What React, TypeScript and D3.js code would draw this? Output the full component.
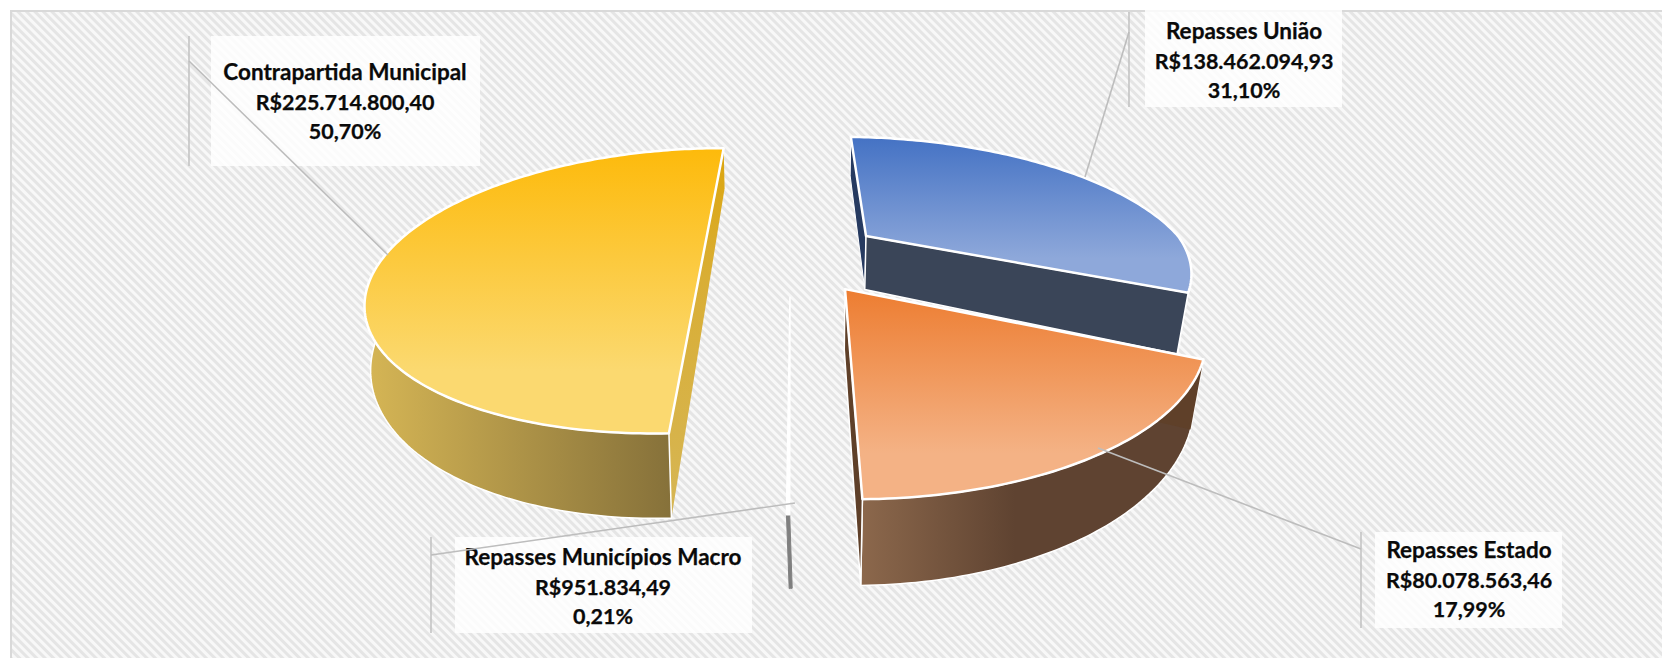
import React from "react";
import * as d3 from "d3";

const categories = ["Repasses União", "Repasses Estado", "Repasses Municípios Macro", "Contrapartida Municipal"];
const amounts = [138462094.93, 80078563.46, 951834.49, 225714800.4];
const amountLabels = ["R$138.462.094,93", "R$80.078.563,46", "R$951.834,49", "R$225.714.800,40"];
const percentLabels = ["31,10%", "17,99%", "0,21%", "50,70%"];

const W = 1662, H = 658;
// perspective camera
const cam = { C: 821, D: 236, A: 312, B: 124, p: 0.25, h0: 55, h1: 8 };
const rotation = (2.3 * Math.PI) / 180;
// exploded offset of each slice on the pie plane, with its small per-slice fit to the 3D renderer
const explode = [
  { x: 45 / 312, v: 0, twist: 0, shear: 0.065, rx: 1, q: 0.028 },
  { x: 0.0695, v: 0.387, twist: 0, shear: 0, rx: 1, q: 0.028 },
  { x: -0.0885, v: 0.44, twist: -1.8, shear: 0, rx: 0.5, q: 0.055 },
  { x: -0.385, v: 0.139, twist: -1.95, shear: 0, rx: 0.96, q: 0.012 },
];
const paintOrder = [3, 2, 0, 1];

const topColors = [["#4472C4", "#8EA8DA"], ["#ED7D31", "#F4B285"], ["#FFFFFF", "#FFFFFF"], ["#FDBA0B", "#FBD970"]];
const wallColors = [["#2F3F5C", "#3A4558"], ["#8C684C", "#5F4331"], ["#7F7F7F", "#7F7F7F"], ["#D6B655", "#86713A"]];
const startSide = ["#263A60", "#5F4029", "#7F7F7F", "url(#yellowSide)"];
const endSide = ["#3A4558", "#5F4029", "#7F7F7F", "url(#yellowSide)"];

const labelBoxes = [
  { x: 1145, y: 10, w: 197, h: 97, cx: 1244, base: 39, lx: 1129, ax: 1129, ay: 32, bx: 1085, by: 177 },
  { x: 1375, y: 532, w: 187, h: 96, cx: 1469, base: 558, lx: 1361, ax: 1361, ay: 549, bx: 1098, by: 448 },
  { x: 455, y: 537, w: 297, h: 96, cx: 603, base: 565, lx: 431, ax: 431, ay: 555, bx: 795, by: 503 },
  { x: 211, y: 36, w: 269, h: 130, cx: 345, base: 80, lx: 189, ax: 189, ay: 61, bx: 388, by: 255 },
];

type P = [number, number];
function project(x: number, v: number, z: number, q: number): P {
  const w = 1 - cam.p * v + q * z;
  return [cam.C + (cam.A * x) / w, cam.D + (cam.B * v + z * (cam.h0 + cam.h1 * v)) / w];
}
const line = d3.line<P>().curve(d3.curveLinearClosed);

const arcs = d3
  .pie<number>()
  .sort(null)
  .startAngle(rotation)
  .endAngle(rotation + 2 * Math.PI)(amounts);

function onRim(i: number, phi: number, z: number): P {
  const e = explode[i];
  const f = phi + (e.twist * Math.PI) / 180;
  const dv = -Math.cos(f);
  return project(e.x + e.rx * Math.sin(f) + e.shear * Math.min(dv, 0), e.v + dv, z, e.q);
}
function rimAngles(a: number, b: number): number[] {
  const n = Math.max(2, Math.ceil(((b - a) * 180) / Math.PI));
  return d3.range(n + 1).map((k) => a + ((b - a) * k) / n);
}

function Slice({ i }: { i: number }) {
  const a = arcs[i];
  const e = explode[i];
  const reflex = a.endAngle - a.startAngle > Math.PI;
  const sliver = a.endAngle - a.startAngle < 0.05;
  const apexTop = project(e.x, e.v, 0, e.q);
  const apexBot = project(e.x, e.v, 1, e.q);
  const rim = rimAngles(a.startAngle, a.endAngle);
  const top = reflex ? rim.map((f) => onRim(i, f, 0)) : [apexTop, ...rim.map((f) => onRim(i, f, 0))];
  const f0 = Math.max(a.startAngle, Math.PI / 2);
  const f1 = Math.min(a.endAngle, (320 * Math.PI) / 180);
  const wallAngles = rimAngles(f0, f1);
  const wall = [...wallAngles.map((f) => onRim(i, f, 0)), ...wallAngles.slice().reverse().map((f) => onRim(i, f, 1))];
  const side = (f: number) => [apexTop, onRim(i, f, 0), onRim(i, f, 1), apexBot] as P[];
  const chord = [onRim(i, a.startAngle, 0), onRim(i, a.endAngle, 0), onRim(i, a.endAngle, 1), onRim(i, a.startAngle, 1)] as P[];
  return (
    <g stroke="#fff" strokeLinejoin="round">
      <defs>
        <linearGradient id={`top${i}`} x1="0" y1="0" x2="0" y2="1">
          <stop offset="0" stopColor={topColors[i][0]} />
          <stop offset="0.78" stopColor={topColors[i][1]} />
          <stop offset="1" stopColor={topColors[i][1]} />
        </linearGradient>
        <linearGradient id={`wall${i}`} x1="0" y1="0" x2="1" y2="0">
          <stop offset="0" stopColor={wallColors[i][0]} />
          <stop offset={i === 1 ? 0.45 : 1} stopColor={wallColors[i][1]} />
          <stop offset="1" stopColor={wallColors[i][1]} />
        </linearGradient>
      </defs>
      {reflex && <path d={line(chord) ?? ""} fill={endSide[i]} strokeWidth={0} />}
      {sliver && <path d={line(wall) ?? ""} fill={wallColors[i][0]} stroke={wallColors[i][0]} strokeWidth={1} />}
      {!reflex && !sliver && (
        <>
          <path d={line(wall) ?? ""} fill={`url(#wall${i})`} strokeWidth={1.5} />
          <path d={line(side(a.startAngle)) ?? ""} fill={startSide[i]} strokeWidth={i === 0 ? 1 : 0} />
          <path d={line(side(a.endAngle)) ?? ""} fill={endSide[i]} strokeWidth={1.5} />
        </>
      )}
      {reflex && <path d={line(wall) ?? ""} fill={`url(#wall${i})`} strokeWidth={1.5} />}
      <path d={line(top) ?? ""} fill={sliver ? "#fff" : `url(#top${i})`} strokeWidth={sliver ? 1.5 : 2.5} />
    </g>
  );
}

export default function App() {
  return (
    <svg width={W} height={H} style={{ position: "absolute", left: 0, top: 0, background: "#fff" }}>
      <defs>
        <pattern id="hatch" width="6" height="6" patternUnits="userSpaceOnUse" patternTransform="rotate(45)">
          <rect width="6" height="6" fill="#F8F8F8" />
          <rect width="6" height="3" fill="#E5E5E5" />
        </pattern>
        <linearGradient id="yellowSide" gradientUnits="userSpaceOnUse" x1="0" y1="148" x2="0" y2="520">
          <stop offset="0" stopColor="#DCA50C" />
          <stop offset="0.35" stopColor="#D9AE35" />
          <stop offset="1" stopColor="#D6B655" />
        </linearGradient>
      </defs>
      <rect x={11} y={11} width={W - 11} height={H - 11} fill="url(#hatch)" />
      <path d={`M11,${H}V11H${W}`} fill="none" stroke="#D9D9D9" strokeWidth={2} />
      {paintOrder.map((i) => (
        <Slice key={i} i={i} />
      ))}
      {categories.map((c, i) => {
        const b = labelBoxes[i];
        const lines = [c, amountLabels[i], percentLabels[i]];
        return (
          <g key={c}>
            <rect x={b.x} y={b.y} width={b.w} height={b.h} fill="#fff" fillOpacity={0.82} />
            <line x1={b.lx} x2={b.lx} y1={b.y + (i === 0 ? 2 : 0)} y2={b.y + b.h} stroke="#C4C4C4" strokeWidth={1.6} />
            {lines.map((t, k) => (
              <text key={k} x={b.cx} y={b.base + k * 29.5} textAnchor="middle" fontFamily="Lato" fontWeight={700} fontSize={k === 0 ? 22.5 : 21.5} fill="#0a0a0a" stroke="#0a0a0a" strokeWidth={0.25}>
                {t}
              </text>
            ))}
            <line x1={b.ax} y1={b.ay} x2={b.bx} y2={b.by} stroke="#BDBDBD" strokeWidth={1.6} />
          </g>
        );
      })}
    </svg>
  );
}
